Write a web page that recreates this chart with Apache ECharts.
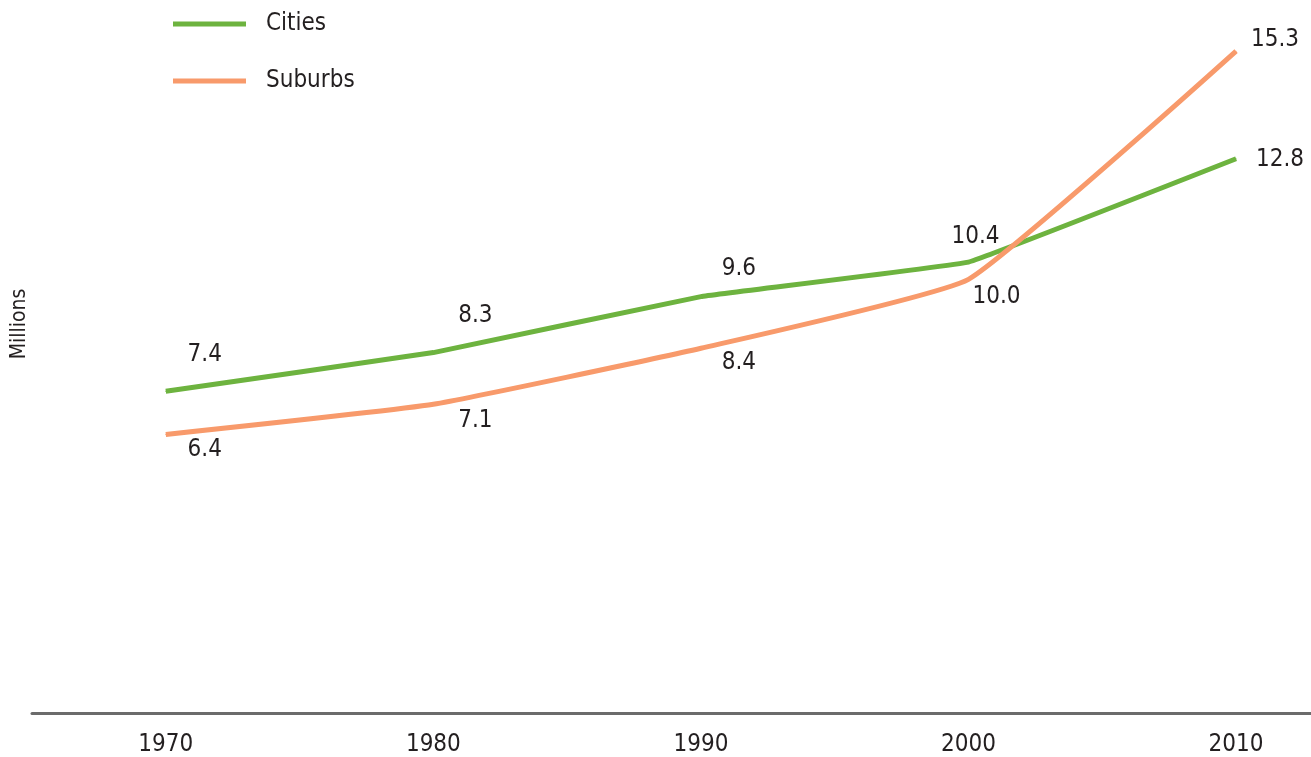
<!DOCTYPE html>
<html>
<head>
<meta charset="utf-8">
<script src="https://cdn.jsdelivr.net/npm/echarts@6/dist/echarts.min.js"></script>
<style>
  html, body { margin: 0; padding: 0; background: #fff; }
  #chart { width: 1311px; height: 757px; }
</style>
</head>
<body>
<div id="chart"></div>
<script>
// data
var years = [1970, 1980, 1990, 2000, 2010];
var cities = [7.4, 8.3, 9.6, 10.4, 12.8];
var suburbs = [6.4, 7.1, 8.4, 10.0, 15.3];

// label offsets from each point (px), styling only
var cityOffsets = [[39, -37], [42, -37], [38, -28], [7, -25], [44, 1]];
var suburbOffsets = [[39, 15], [42, 17], [38, 14], [28, 17], [39, -11]];

var FONT = "'Liberation Sans Narrow', 'DejaVu Sans Condensed', sans-serif";
var TEXT = '#231f20';

function buildData (vals, offsets) {
    var out = [];
    for (var i = 0; i < years.length; i++) {
        out.push({
            value: [years[i], vals[i]],
            label: { offset: offsets[i] }
        });
    }
    return out;
}

var pointLabel = {
    show: true,
    position: 'inside',
    align: 'center',
    verticalAlign: 'middle',
    fontFamily: FONT,
    fontSize: 24,
    color: TEXT,
    formatter: function (p) { return p.value[1].toFixed(1); }
};

var chart = echarts.init(document.getElementById('chart'));
var option = {
    backgroundColor: '#fff',
    animation: false,
    legend: {
        orient: 'vertical',
        left: 173,
        top: 12,
        padding: 0,
        itemWidth: 73,
        itemHeight: 5,
        itemGap: 33,
        icon: 'rect',
        textStyle: {
            fontFamily: FONT,
            fontSize: 24,
            color: TEXT,
            padding: [0, 0, 0, 15]
        },
        data: ['Cities', 'Suburbs']
    },
    graphic: [{
        type: 'text',
        x: 20,
        y: 324,
        rotation: Math.PI / 2,
        style: {
            text: 'Millions',
            fontFamily: FONT,
            fontSize: 21,
            fill: TEXT,
            align: 'center',
            verticalAlign: 'middle'
        }
    }],
    grid: {
        left: 32,
        right: 0,
        top: 21,
        bottom: 43
    },
    xAxis: {
        type: 'value',
        min: 1965,
        max: 2012.8,
        axisLine: {
            show: true,
            onZero: false,
            lineStyle: { color: '#6b6b6b', width: 3 }
        },
        axisTick: { show: false },
        splitLine: { show: false },
        axisLabel: {
            customValues: years,
            margin: 20,
            fontFamily: FONT,
            fontSize: 24,
            color: TEXT,
            formatter: function (v) { return String(v); }
        }
    },
    yAxis: {
        type: 'value',
        min: -0.07,
        max: 16,
        axisLine: { show: false },
        axisTick: { show: false },
        axisLabel: { show: false },
        splitLine: { show: false }
    },
    series: [{
        name: 'Cities',
        type: 'line',
        data: buildData(cities, cityOffsets),
        smooth: 0.05,
        symbol: 'circle',
        symbolSize: 1,
        lineStyle: { color: '#6db33f', width: 5 },
        itemStyle: { color: '#6db33f' },
        label: pointLabel
    }, {
        name: 'Suburbs',
        type: 'line',
        data: buildData(suburbs, suburbOffsets),
        smooth: 0.12,
        symbol: 'circle',
        symbolSize: 1,
        lineStyle: { color: '#f89a6b', width: 5 },
        itemStyle: { color: '#f89a6b' },
        label: pointLabel
    }]
};
chart.setOption(option);
</script>
</body>
</html>
